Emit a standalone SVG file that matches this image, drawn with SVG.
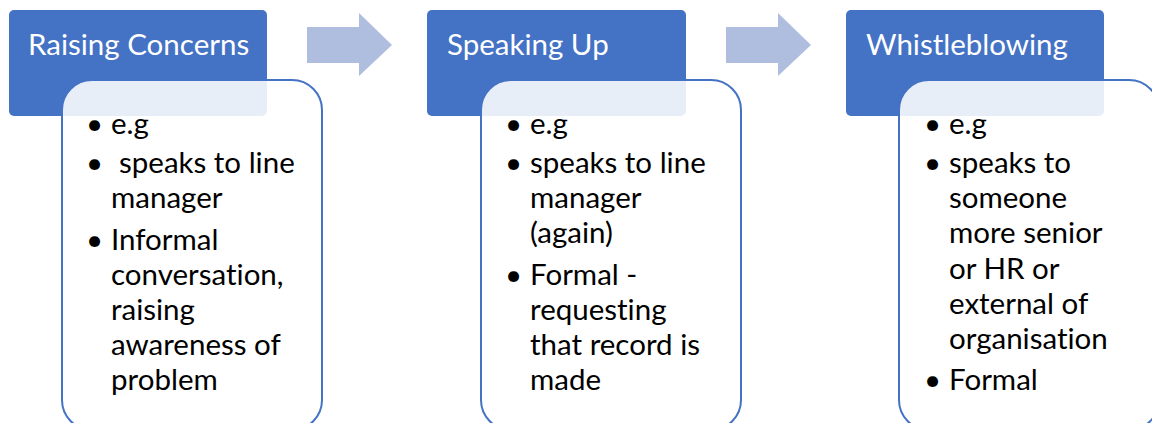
<svg xmlns="http://www.w3.org/2000/svg" width="1152" height="423" viewBox="0 0 1152 423">
  <style>
    .head { fill: #4472C4; }
    .body { fill: #FFFFFF; fill-opacity: 0.88; stroke: #4472C4; stroke-width: 2; }
    .arrow { fill: #AFBDDF; }
    .title { font-family: Lato, "Open Sans", "Liberation Sans", sans-serif; font-size: 29.5px; fill: #FFFFFF; font-variant-ligatures: none; }
    .item { font-family: Lato, "Open Sans", "Liberation Sans", sans-serif; font-size: 29.5px; fill: #000000; font-variant-ligatures: none; }
  </style>
  <defs>
    <path id="chevron" d="M0,27 H52 V13 L85,45 L52,76 V63 H0 Z"/>
  </defs>
  <rect width="1152" height="423" fill="#FFFFFF"/>

  <!-- flow arrows between the stages -->
  <g id="connectors">
    <use href="#chevron" class="arrow" x="307" y="0"/>
    <use href="#chevron" class="arrow" x="726" y="0"/>
  </g>

  <!-- stage 1 -->
  <g id="raising-concerns">
    <rect class="head" x="9" y="10" width="258" height="106" rx="5"/>
    <text class="title" x="28" y="55">Raising Concerns</text>
    <rect class="body" x="62" y="80" width="260" height="350" rx="30"/>
    <g class="item">
      <text x="86" y="134">•</text><text x="111" y="134">e.g</text>
      <text x="86" y="173">•</text><text x="119" y="173">speaks to line</text>
      <text x="111" y="208">manager</text>
      <text x="86" y="250">•</text><text x="111" y="250">Informal</text>
      <text x="111" y="285">conversation,</text>
      <text x="111" y="320">raising</text>
      <text x="111" y="355">awareness of</text>
      <text x="111" y="390">problem</text>
    </g>
  </g>

  <!-- stage 2 -->
  <g id="speaking-up">
    <rect class="head" x="427" y="10" width="259" height="106" rx="5"/>
    <text class="title" x="447" y="55">Speaking Up</text>
    <rect class="body" x="481" y="80" width="260" height="350" rx="30"/>
    <g class="item">
      <text x="505" y="134">•</text><text x="530" y="134">e.g</text>
      <text x="505" y="173">•</text><text x="530" y="173">speaks to line</text>
      <text x="530" y="208">manager</text>
      <text x="530" y="243">(again)</text>
      <text x="505" y="285">•</text><text x="530" y="285">Formal -</text>
      <text x="530" y="320">requesting</text>
      <text x="530" y="355">that record is</text>
      <text x="530" y="390">made</text>
    </g>
  </g>

  <!-- stage 3 -->
  <g id="whistleblowing">
    <rect class="head" x="846" y="10" width="258" height="106" rx="5"/>
    <text class="title" x="866" y="55">Whistleblowing</text>
    <rect class="body" x="899" y="80" width="260" height="350" rx="30"/>
    <g class="item">
      <text x="924" y="134">•</text><text x="949" y="134">e.g</text>
      <text x="924" y="173">•</text><text x="949" y="173">speaks to</text>
      <text x="949" y="208">someone</text>
      <text x="949" y="243">more senior</text>
      <text x="949" y="279">or HR or</text>
      <text x="949" y="314">external of</text>
      <text x="949" y="349">organisation</text>
      <text x="924" y="390">•</text><text x="949" y="390">Formal</text>
    </g>
  </g>
</svg>
